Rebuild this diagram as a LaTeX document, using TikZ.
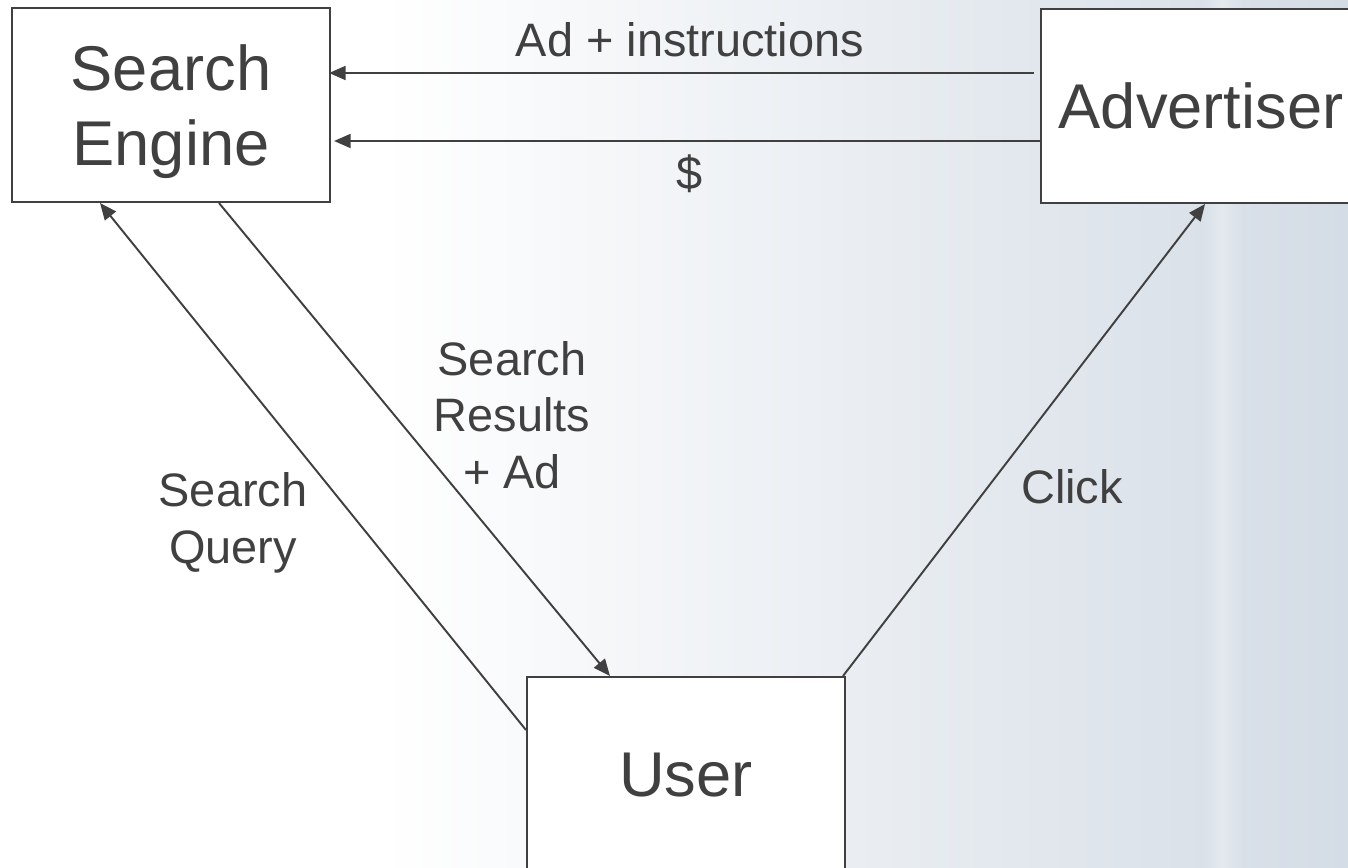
\documentclass[tikz,border=0pt]{standalone}
\usepackage{fontspec}
\setmainfont{Liberation Sans}
\usepackage{tikz}
\usetikzlibrary{positioning, arrows.meta, calc}
\definecolor{inkgray}{HTML}{404040}
\definecolor{panemid}{HTML}{E9EDF1}
\definecolor{paneblue}{HTML}{D4DCE5}

\begin{document}
\begin{tikzpicture}[
  x=0.02cm, y=-0.02cm,
  party/.style={
    rectangle, draw=inkgray, fill=white, line width=1.2pt,
    minimum width=#1, minimum height=3.88cm, inner sep=0pt,
    align=center, text=inkgray, text depth=0pt,
    font=\fontsize{36}{42.5}\selectfont
  },
  lbl/.style={
    align=center, text=inkgray, inner sep=0pt,
    font=\fontsize{26.7}{32}\selectfont
  },
  flow/.style={
    draw=inkgray, line width=1.1pt,
    -{Triangle[length=9.5pt,width=8pt]}
  },
]

% backdrop
\useasboundingbox (0,0) rectangle (1348,868);
\clip (0,0) rectangle (1348,868);
\fill[white] (0,0) rectangle (1348,868);
\shade[left color=white, middle color=panemid, right color=paneblue]
  (380,0) rectangle (1348,868);
\shade[left color=paneblue, right color=paneblue, middle color=white, opacity=0.3]
  (1200,0) rectangle (1245,868);

% the three parties
\node[party=6.36cm] (engine) at (171,105) {Search\\Engine};
\node[party=6.4cm] (advertiser) at (1201,106) {Advertiser};
\node[party=6.36cm, minimum height=3.92cm] (user) at (686,775) {User};

% advertiser -> engine
\draw[flow] ($(advertiser.west)+(-6,-33)$) coordinate (adtop)
  -- ($(engine.east |- adtop)+(-2,0)$);
\draw[flow] ($(advertiser.west)+(0,35)$) coordinate (paytop)
  -- ($(engine.east |- paytop)+(3,0)$);

% user <-> engine, user -> advertiser
\draw[flow] ($(user.west)+(0,-45)$) -- ($(engine.south)+(-71,0)$);
\draw[flow] ($(engine.south)+(48,0)$) -- ($(user.north)+(-76,0)$);
\draw[flow] ($(user.north east)+(-3,0)$) -- ($(advertiser.south)+(4,0)$);

% labels (base sits on the last line)
\node[lbl, anchor=base] (adlabel) at (690,57) {Ad + instructions};
\node[lbl, anchor=base] (paylabel) at (690,190) {\$};
\node[lbl, anchor=base] (resultlabel) at (512,488) {Search\\Results\\+ Ad};
\node[lbl, anchor=base] (querylabel) at (233,563) {Search\\Query};
\node[lbl, anchor=base] (clicklabel) at (1072,503) {Click};

\end{tikzpicture}
\end{document}
